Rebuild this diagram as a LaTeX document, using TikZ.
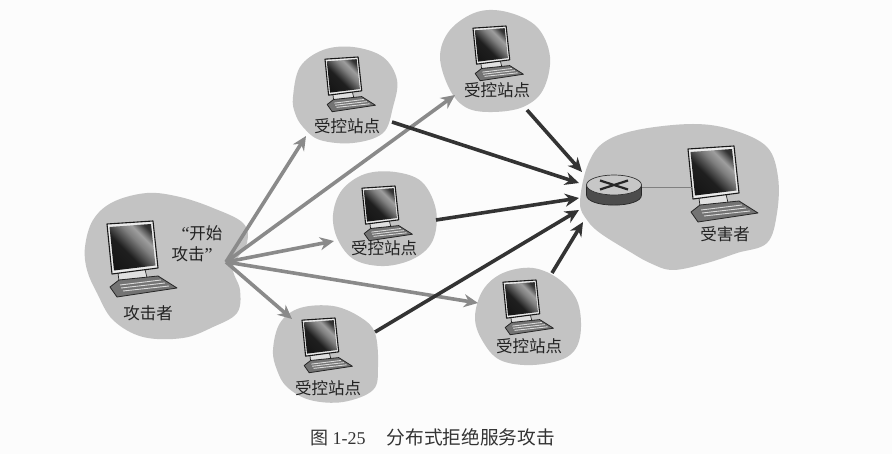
\documentclass[tikz,border=0pt]{standalone}
\usepackage{fontspec}
\setmainfont{Liberation Serif}
\newfontfamily\cjk{Noto Sans CJK SC}
\usetikzlibrary{arrows.meta,shapes.geometric}
\definecolor{blobgray}{HTML}{C3C3C3}
\definecolor{inkgray}{HTML}{222222}
\definecolor{sendgray}{HTML}{8A8A8A}
\definecolor{hitgray}{HTML}{333333}
\pgfdeclarehorizontalshading{screenshade}{100bp}{color(0bp)=(black!95); color(42bp)=(black!88); color(58bp)=(black!50); color(66bp)=(black!38); color(76bp)=(black!80); color(100bp)=(black!90)}
\tikzset{
  blob/.style={fill=blobgray,draw=none},
  lbl/.style={font=\cjk\fontsize{16.5}{18}\selectfont,text=inkgray,inner sep=0pt},
  captext/.style={text=black!80,inner sep=0pt,anchor=west},
  sendarrow/.style={draw=sendgray,line width=3.6pt,-{Stealth[length=14pt,width=13pt]}},
  hitarrow/.style={draw=hitgray,line width=3.6pt,-{Stealth[length=14pt,width=13pt]}},
  computer/.pic={
    % stand
    \draw[fill=black!12,draw=black!85,line width=.7pt] (11,52) -- (12,60) -- (40,57) -- (38,48) -- cycle;
    % keyboard
    \draw[fill=black!55,draw=black!85,line width=.8pt,line join=round] (3,66) -- (12,59) -- (51,55) -- (70,67) -- (10,76) -- cycle;
    \draw[draw=black!15,line width=.9pt] (13,64) -- (54,59);
    \draw[draw=black!15,line width=.9pt] (14,67) -- (58,62);
    \draw[draw=black!15,line width=.9pt] (16,70) -- (62,65);
    % monitor
    \draw[fill=black!8,draw=black!90,line width=1.1pt,line join=round] (0,3) -- (46,0) -- (51,47) -- (5,53) -- cycle;
    \path[shading=screenshade,shading angle=45] (2.5,6) -- (44,3) -- (48.5,44.5) -- (7,49.5) -- cycle;
  }
}
\begin{document}
\begin{tikzpicture}[x=1pt,y=-1pt]
\useasboundingbox (0,0) rectangle (892,454);
\fill[fill=black!1] (0,0) rectangle (892,454);
% regions
\fill[blob] plot[smooth cycle,tension=.6] coordinates {(85,247)(93,220)(113,202)(147,193)(180,197)(213,208)(243,223)(247,243)(233,267)(240,290)(237,313)(213,327)(183,338)(143,337)(113,320)(97,293)(87,270)};
\fill[blob] plot[smooth cycle,tension=.6] coordinates {(580,203)(587,167)(603,143)(637,130)(693,124)(733,130)(767,147)(778,177)(777,213)(767,243)(737,253)(707,263)(673,270)(650,263)(627,250)(600,233)(587,220)};
\fill[blob] plot[smooth cycle,tension=.6] coordinates {(293,97)(300,67)(323,50)(353,47)(383,57)(397,80)(393,107)(383,133)(353,143)(320,140)(303,127)(295,113)};
\fill[blob] plot[smooth cycle,tension=.6] coordinates {(440,57)(450,30)(477,12)(507,12)(537,27)(550,57)(543,90)(523,107)(493,112)(467,108)(450,90)};
\fill[blob] plot[smooth cycle,tension=.6] coordinates {(333,215)(342,190)(365,174)(395,172)(422,182)(436,210)(433,240)(415,258)(385,266)(355,260)(338,240)};
\fill[blob] plot[smooth cycle,tension=.6] coordinates {(475,317)(483,290)(503,273)(533,268)(560,280)(578,303)(580,337)(567,357)(533,365)(500,360)(482,340)};
\fill[blob] plot[smooth cycle,tension=.6] coordinates {(273,350)(280,323)(300,308)(333,306)(360,317)(375,333)(378,367)(373,390)(343,402)(310,400)(287,387)(277,370)};
% connector ends
\coordinate (src) at (226,262);
\coordinate (inA) at (306,136);
\coordinate (inB) at (455,95);
\coordinate (inC) at (334,241);
\coordinate (inD) at (478,303);
\coordinate (inE) at (292,319);
\coordinate (outA) at (392,122);
\coordinate (outB) at (527,110);
\coordinate (outC) at (436,220);
\coordinate (outD) at (552,273);
\coordinate (outE) at (375,332);
\coordinate (tipA) at (579,183);
\coordinate (tipB) at (582,172);
\coordinate (tipC) at (579,198);
\coordinate (tipD) at (583,222);
\coordinate (tipE) at (579,210);
\coordinate (linkL) at (640,188);
\coordinate (linkR) at (692,188);
% computers
\pic[scale=1] at (107,221) {computer};
\pic[scale=1] at (688,146) {computer};
\pic[scale=.72] at (325,57) {computer};
\pic[scale=.72] at (473,26) {computer};
\pic[scale=.72] at (362,186) {computer};
\pic[scale=.72] at (503,280) {computer};
\pic[scale=.72] at (302,318) {computer};
% arrows
\draw[sendarrow] (src) -- (inA);
\draw[sendarrow] (src) -- (inB);
\draw[sendarrow] (src) -- (inC);
\draw[sendarrow] (src) -- (inD);
\draw[sendarrow] (src) -- (inE);
\draw[hitarrow] (outA) -- (tipA);
\draw[hitarrow] (outB) -- (tipB);
\draw[hitarrow] (outC) -- (tipC);
\draw[hitarrow] (outD) -- (tipD);
\draw[hitarrow] (outE) -- (tipE);
% router
\draw[draw=black!50,line width=1pt] (linkL) -- (linkR);
\draw[fill=black!70,draw=black!85,line width=.7pt] (586.5,185) -- (586.5,195) .. controls (586.5,208.5) and (641.5,208.5) .. (641.5,195) -- (641.5,185) -- cycle;
\node[draw=black!80,fill=black!22,line width=.7pt,ellipse,minimum width=55pt,minimum height=20pt,inner sep=0pt] (router) at (614,185) {};
\draw[draw=black!85,line width=2.2pt] (600,180.5) -- (628,189.5);
\draw[draw=black!85,line width=2.2pt] (600,189.5) -- (628,180.5);
% labels
\node[lbl] (lbA) at (347,126) {受控站点};
\node[lbl] (lbB) at (497,90) {受控站点};
\node[lbl] (lbC) at (384,248) {受控站点};
\node[lbl] (lbD) at (529,346) {受控站点};
\node[lbl] (lbE) at (328,388) {受控站点};
\node[lbl] (attacker) at (148,313) {攻击者};
\node[lbl] (victim) at (725,234) {受害者};
\node[lbl] (start1) at (202,233) {{\rmfamily\fontsize{18}{18}\selectfont “}开始};
\node[lbl] (start2) at (192,254) {攻击{\rmfamily\fontsize{18}{18}\selectfont ”}};
\node[captext,font=\fontsize{18}{20}\selectfont] (caption) at (310,437) {{\cjk 图} 1-25\hspace{21pt}{\cjk\fontsize{18.7}{20}\selectfont 分布式拒绝服务攻击}};
\end{tikzpicture}
\end{document}
